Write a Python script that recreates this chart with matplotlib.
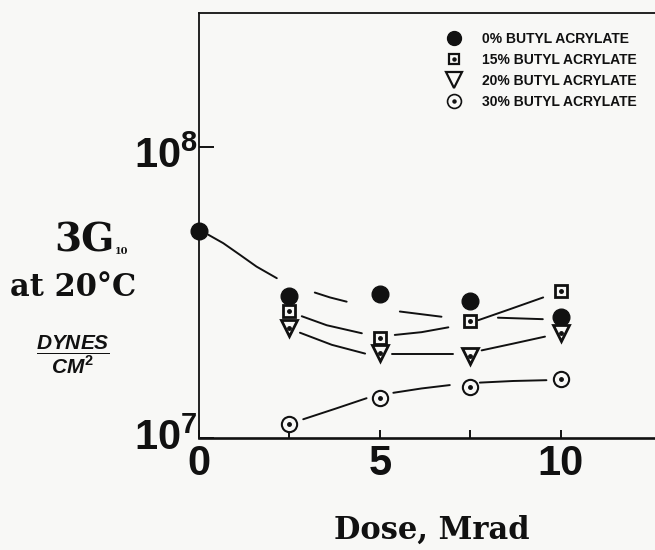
import matplotlib
matplotlib.use("Agg")
import matplotlib.pyplot as plt
import matplotlib.transforms as mtransforms
from matplotlib.lines import Line2D

# dose (Mrad) and 3G at 20C (units of 1e7 dynes/cm^2)
dose = [2.5, 5.0, 7.5, 10.0]
dose0 = [0.0, 2.5, 5.0, 7.5, 10.0]
g_0 = [5.15, 3.08, 3.12, 2.96, 2.61]
g_15 = [2.73, 2.20, 2.52, 3.19]
g_20 = [2.38, 1.96, 1.92, 2.29]
g_30 = [1.12, 1.37, 1.50, 1.60]

# hand-drawn trend curves, as the broken pieces seen on the page
trend_0 = [([0.26, 0.67, 1.13, 1.59, 2.15], [4.99, 4.67, 4.26, 3.88, 3.54]),
           ([3.2, 3.62, 4.08], [3.16, 3.04, 2.94]),
           ([5.55, 6.7], [2.72, 2.61]),
           ([8.26, 9.5], [2.59, 2.56])]
trend_15 = [([2.84, 3.53, 4.5], [2.62, 2.44, 2.29]),
            ([5.41, 6.15, 6.89], [2.26, 2.31, 2.40]),
            ([7.72, 8.59, 9.51], [2.54, 2.77, 3.04])]
trend_20 = [([2.79, 3.67, 4.59], [2.30, 2.09, 1.95]),
            ([5.32, 7.03], [1.94, 1.94]),
            ([7.81, 8.68, 9.56], [2.00, 2.11, 2.23])]
trend_30 = [([2.88, 3.76, 4.63], [1.16, 1.26, 1.37]),
            ([5.37, 6.15, 6.93], [1.43, 1.48, 1.52]),
            ([7.76, 8.68, 9.6], [1.55, 1.57, 1.58])]

labels = ["0% BUTYL ACRYLATE", "15% BUTYL ACRYLATE",
          "20% BUTYL ACRYLATE", "30% BUTYL ACRYLATE"]
xticks = [0, 2.5, 5, 7.5, 10]
xticklabels = ["0", "", "5", "", "10"]

INK = "#111111"
PAPER = "#f8f8f6"

plt.rcParams["mathtext.fontset"] = "custom"
plt.rcParams["mathtext.rm"] = "Liberation Sans:bold"
plt.rcParams["mathtext.bf"] = "Liberation Sans:bold"
plt.rcParams["mathtext.it"] = "Liberation Sans:italic:bold"

fig = plt.figure(figsize=(6.55, 5.5), dpi=100, facecolor=PAPER)
ax = fig.add_axes([0.3038, 0.2036, 0.6962, 0.7728])
ax.set_facecolor(PAPER)

def scale(v):
    return [x * 1e7 for x in v]

for pieces in (trend_0, trend_15, trend_20, trend_30):
    for xs, ys in pieces:
        ax.plot(xs, scale(ys), color=INK, lw=1.4, solid_capstyle="round")

ax.plot(dose0, scale(g_0), "o", ms=12, color=INK, zorder=3, clip_on=False)
ax.plot(dose, scale(g_15), "s", ms=8, mfc=PAPER, mec=INK, mew=2.0, zorder=3)
ax.plot(dose, scale(g_20), "v", ms=12, mfc=PAPER, mec=INK, mew=2.0, zorder=3)
ax.plot(dose, scale(g_30), "o", ms=11, mfc=PAPER, mec=INK, mew=1.5, zorder=3)
for vals in (g_15, g_20, g_30):
    ax.plot(dose, scale(vals), "o", ms=2.5, color=INK, zorder=4)

ax.set_yscale("log")
ax.set_ylim(1e7, 10 ** 8.46)
ax.set_xlim(0, 12.6)
ax.minorticks_off()
ax.set_yticks([1e7, 1e8])
ax.set_yticklabels([r"$10^{7}$", r"$10^{8}$"], fontsize=30)
ax.set_xticks(xticks)
ax.set_xticklabels(xticklabels, fontsize=30, fontfamily="Liberation Sans",
                   fontweight="bold")
ax.tick_params(axis="x", direction="in", length=5.5, width=1.4, pad=4,
               colors=INK)
ax.tick_params(axis="y", direction="in", length=11, width=1.4, pad=1,
               colors=INK)

# on the page 10^7 sits a bit above its tick and 10^8 a bit below
lab7, lab8 = ax.get_yticklabels()
lab7.set_transform(lab7.get_transform() +
                   mtransforms.ScaledTranslation(0, 5 / 100, fig.dpi_scale_trans))
lab8.set_transform(lab8.get_transform() +
                   mtransforms.ScaledTranslation(0, -5 / 100, fig.dpi_scale_trans))

ax.spines["right"].set_visible(False)
ax.spines["left"].set_linewidth(1.3)
ax.spines["top"].set_linewidth(1.3)
ax.spines["bottom"].set_linewidth(1.9)
for s in ax.spines.values():
    s.set_color(INK)

ax.set_xlabel("Dose, Mrad", fontsize=22, fontfamily="DejaVu Serif",
              fontweight="bold", color=INK)
ax.xaxis.set_label_coords(0.511, -0.18)

# y-axis title block
fig.text(0.129, 0.562, "3G", fontsize=28, fontfamily="DejaVu Serif",
         fontweight="bold", ha="center", va="center", color=INK)
fig.text(0.185, 0.543, "10", fontsize=7, fontfamily="DejaVu Serif",
         fontweight="bold", ha="center", va="center", color=INK)
fig.text(0.112, 0.478, "at 20°C", fontsize=22, fontfamily="DejaVu Serif",
         fontweight="bold", ha="center", va="center", color=INK)
fig.text(0.112, 0.355, r"$\dfrac{\mathit{DYNES}}{\mathit{CM}^{2}}$",
         fontsize=15, ha="center", va="center", color=INK)

# legend
dot = Line2D([], [], ls="none", marker="o", ms=2.2, color=INK)
h0 = Line2D([], [], ls="none", marker="o", ms=10, color=INK)
h15 = Line2D([], [], ls="none", marker="s", ms=7, mfc=PAPER, mec=INK, mew=1.6)
h20 = Line2D([], [], ls="none", marker="v", ms=12, mfc=PAPER, mec=INK, mew=1.6)
h30 = Line2D([], [], ls="none", marker="o", ms=10, mfc=PAPER, mec=INK, mew=1.2)
leg = fig.legend([h0, (h15, dot), h20, (h30, dot)], labels,
                 loc="upper right", bbox_to_anchor=(0.982, 0.955),
                 frameon=False, borderpad=0, labelspacing=0.5,
                 handlelength=2.0, handletextpad=1.0,
                 prop={"family": "Liberation Sans", "weight": "bold",
                       "size": 10})
for t in leg.get_texts():
    t.set_color(INK)

fig.savefig("out.png", dpi=100, facecolor=PAPER)
